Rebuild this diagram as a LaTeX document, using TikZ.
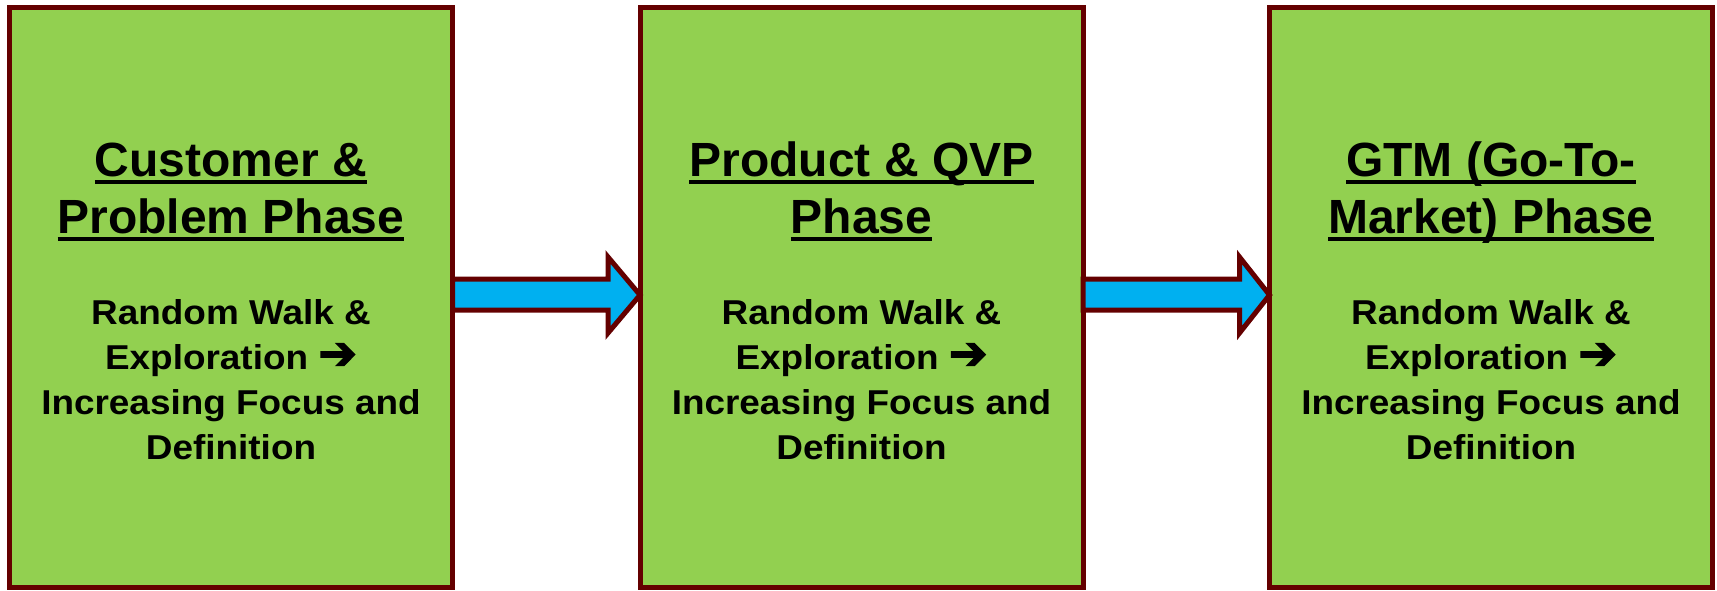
\documentclass[tikz,border=0pt]{standalone}
\usepackage{fontspec}
\setmainfont{Liberation Sans}
\newfontfamily\bodyfont[FakeStretch=1.07]{Liberation Sans}
\newfontfamily\symfont[FakeBold=3]{DejaVu Sans}
\usetikzlibrary{calc}
\definecolor{leaf}{HTML}{92D050}
\definecolor{bord}{HTML}{640000}
\definecolor{sky}{HTML}{00B0F0}
\newcommand\ulx[1]{\setbox0\hbox{#1}\rlap{\rule[-7.5pt]{\wd0}{3.5pt}}\box0}
\newcommand\thickarrow{{\symfont\fontsize{46}{45}\selectfont ➔}}
\begin{document}
\begin{tikzpicture}[x=1pt,y=-1pt,
 phase/.style={draw=bord, line width=5pt, fill=leaf, minimum width=443pt, minimum height=580pt, inner sep=0pt, outer sep=0pt},
 fatarrow/.style={draw=bord, line width=5pt, fill=sky, line join=miter},
 ttl/.style={font=\fontsize{48}{57}\selectfont\bfseries, align=center, anchor=base, inner sep=0pt},
 bdy/.style={font=\bodyfont\fontsize{34.5}{45}\selectfont\bfseries, align=center, anchor=base, inner sep=0pt}]
\useasboundingbox (0,0) rectangle (1717,590);
\node[phase] (b1) at (231,297.5) {};
\node[phase] (b2) at (861.5,297.5) {};
\node[phase] (b3) at (1491,297.5) {};
\node[ttl] (t1) at (231,233) {\ulx{Customer \&}\\\ulx{Problem Phase}};
\node[ttl] (t2) at (861.5,233) {\ulx{Product \& QVP}\\\ulx{Phase}};
\node[ttl] (t3) at (1491,233) {\ulx{GTM (Go-To-}\\\ulx{Market) Phase}};
\node[bdy] (d1) at (231,459) {Random Walk \&\\Exploration \thickarrow\\Increasing Focus and\\Definition};
\node[bdy] (d2) at (861.5,459) {Random Walk \&\\Exploration \thickarrow\\Increasing Focus and\\Definition};
\node[bdy] (d3) at (1491,459) {Random Walk \&\\Exploration \thickarrow\\Increasing Focus and\\Definition};
\draw[fatarrow] ($(b1.east)+(0,-18.5)$) -- ++(155.5,0) -- ++(0,-22) -- ($(b2.west)+(0,-2.5)$) -- ($(b1.east)+(155.5,35.5)$) -- ++(0,-23) -- ($(b1.east)+(0,12.5)$) -- cycle;
\draw[fatarrow] ($(b2.east)+(0,-18.5)$) -- ++(156.5,0) -- ++(0,-22) -- ($(b3.west)+(0,-2.5)$) -- ($(b2.east)+(156.5,35.5)$) -- ++(0,-23) -- ($(b2.east)+(0,12.5)$) -- cycle;
\end{tikzpicture}
\end{document}
